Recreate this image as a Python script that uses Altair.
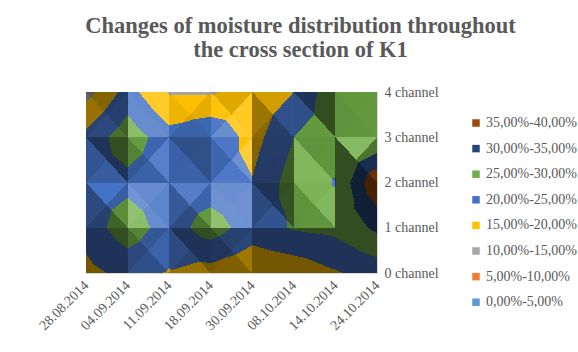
import altair as alt
import numpy as np
import pandas as pd

# Moisture readings (%) per sampling date for channels 0..4
dates = ["28.08.2014", "04.09.2014", "11.09.2014", "18.09.2014",
         "30.09.2014", "08.10.2014", "14.10.2014", "24.10.2014"]
channels = ["0 channel", "1 channel", "2 channel", "3 channel", "4 channel"]

ch0 = [18.5, 21.5, 19.7, 18.0, 16.0, 16.5, 19.5, 22.0]
ch1 = [22.0, 28.0, 22.5, 27.5, 22.5, 25.5, 26.5, 31.0]
ch2 = [23.0, 23.5, 22.0, 22.0, 20.3, 27.5, 24.8, 39.5]
ch3 = [21.5, 28.0, 22.0, 24.5, 18.0, 25.0, 26.5, 25.0]
ch4 = [13.0, 22.0, 14.5, 14.5, 17.0, 20.0, 29.0, 27.0]

# Contour bands, lowest first
band_labels = ["0,00%-5,00%", "5,00%-10,00%", "10,00%-15,00%", "15,00%-20,00%",
               "20,00%-25,00%", "25,00%-30,00%", "30,00%-35,00%", "35,00%-40,00%"]
band_colors = ["#5B9BD5", "#ED7D31", "#A5A5A5", "#FFC000",
               "#4472C4", "#70AD47", "#264478", "#9E480E"]
band_step = 5.0

W, H = 291, 181          # plot area in pixels
NX, NY = len(dates) - 1, len(channels) - 1
Z = np.array([ch0, ch1, ch2, ch3, ch4])   # Z[row(channel), col(date)]

px_x = W / NX
px_y = H / NY
relief = 6.0             # vertical exaggeration used for facet lighting
light = np.array([0.42, 0.42, 0.80])
light = light / np.linalg.norm(light)
flat = light[2]


def hex_to_rgb(h):
    return np.array([int(h[i:i + 2], 16) for i in (1, 3, 5)], dtype=float)


base_rgb = [hex_to_rgb(c) for c in band_colors]


def shade_color(idx, f):
    c = base_rgb[idx]
    if f >= 1:
        c = c + (255 - c) * (f - 1)
    else:
        c = c * f
    c = np.clip(c, 0, 255).round().astype(int)
    return "#%02x%02x%02x" % tuple(c)


def facet(i, j, s, t):
    """Value and lighting of the surface facet (cell split by its diagonals)."""
    z00, z10 = Z[j, i], Z[j, i + 1]
    z01, z11 = Z[j + 1, i], Z[j + 1, i + 1]
    zc = (z00 + z10 + z01 + z11) / 4
    if t >= s and t >= 1 - s:
        tri = [(0, 1, z01), (1, 1, z11)]
    elif t <= s and t <= 1 - s:
        tri = [(0, 0, z00), (1, 0, z10)]
    elif s <= t:
        tri = [(0, 0, z00), (0, 1, z01)]
    else:
        tri = [(1, 0, z10), (1, 1, z11)]
    pts = np.array([tri[0], tri[1], (0.5, 0.5, zc)], dtype=float)
    # plane through the three vertices
    a = np.c_[pts[:, 0], pts[:, 1], np.ones(3)]
    cx, cy, c0 = np.linalg.solve(a, pts[:, 2])
    val = cx * s + cy * t + c0
    gx = cx * relief / px_x
    gy = cy * relief / px_y
    n = np.array([-gx, -gy, 1.0])
    n = n / np.linalg.norm(n)
    d = float(n @ light) - flat
    f = 0.93 + (1.6 * d if d > 0 else 0.9 * d)
    return val, float(np.clip(f, 0.45, 1.3))


# Build the filled surface as horizontal runs of equal colour, one pixel row each
rows = []
for r in range(H):
    v = (r + 0.5) / H * NY
    j = min(int(v), NY - 1)
    t = v - j
    run_start, run_fill = 0, None
    for c in range(W + 1):
        if c < W:
            u = (c + 0.5) / W * NX
            i = min(int(u), NX - 1)
            s = u - i
            val, f = facet(i, j, s, t)
            idx = int(np.clip(val // band_step, 0, len(band_colors) - 1))
            fill = shade_color(idx, f)
        else:
            fill = None
        if fill != run_fill:
            if run_fill is not None:
                rows.append({
                    "x0": run_start / W * NX, "x1": c / W * NX,
                    "y0": r / H * NY, "y1": (r + 1) / H * NY,
                    "fill": run_fill,
                })
            run_start, run_fill = c, fill

surface = pd.DataFrame(rows)

date_arr = "[" + ",".join("'%s'" % d for d in dates) + "]"
chan_arr = "[" + ",".join("'%s'" % ch for ch in channels) + "]"

x_scale = alt.Scale(domain=[0, NX], nice=False, zero=False)
y_scale = alt.Scale(domain=[0, NY], nice=False, zero=False)

label_font = "Liberation Serif"
grey = "#595959"

surface_layer = alt.Chart(surface).mark_rect(strokeWidth=0).encode(
    x=alt.X("x0:Q", scale=x_scale,
            axis=alt.Axis(values=list(range(len(dates))), labelExpr=date_arr + "[datum.value]",
                          title=None, ticks=False, domain=False, grid=False,
                          labelAngle=-45, labelAlign="right", labelBaseline="middle",
                          labelPadding=10, labelFont=label_font, labelFontSize=14,
                          labelColor=grey, labelBound=False, labelOverlap=False)),
    x2="x1:Q",
    y=alt.Y("y0:Q", scale=y_scale,
            axis=alt.Axis(orient="right", values=list(range(len(channels))),
                          labelExpr=chan_arr + "[datum.value]",
                          title=None, ticks=False, domain=False, grid=False,
                          labelPadding=7, labelFont=label_font, labelFontSize=14,
                          labelColor=grey, labelBaseline="middle",
                          labelBound=False, labelOverlap=False, labelFlush=False)),
    y2="y1:Q",
    fill=alt.Fill("fill:N", scale=None),
)

# Invisible carrier for the band legend
legend_df = pd.DataFrame({"band": band_labels, "x": 0.05, "y": 0.05})
legend_layer = alt.Chart(legend_df).mark_square(size=4, opacity=0).encode(
    x=alt.X("x:Q", scale=x_scale),
    y=alt.Y("y:Q", scale=y_scale),
    color=alt.Color(
        "band:N",
        scale=alt.Scale(domain=band_labels[::-1], range=band_colors[::-1]),
        legend=alt.Legend(
            title=None, orient="none", legendX=383, legendY=24,
            symbolType="square", symbolSize=56, symbolOpacity=1,
            symbolStrokeWidth=0,
            labelFont=label_font, labelFontSize=14, labelColor=grey,
            labelOffset=3, rowPadding=11.6,
        ),
    ),
)

chart = alt.layer(surface_layer, legend_layer).properties(
    width=W, height=H,
    title=alt.TitleParams(
        text=["Changes of moisture distribution throughout", "the cross section of K1"],
        font=label_font, fontSize=22.5, fontWeight="bold", color=grey,
        anchor="middle", frame="group", dx=69, offset=24, lineHeight=24,
    ),
    autosize=alt.AutoSizeParams(type="none"),
    padding={"left": 86, "top": 92, "right": 578 - 86 - W, "bottom": 352 - 92 - H},
    background="white",
).configure_view(stroke="#d9d9d9", strokeWidth=1)

chart.save("out.html", embed_options={"renderer": "svg", "actions": False})
